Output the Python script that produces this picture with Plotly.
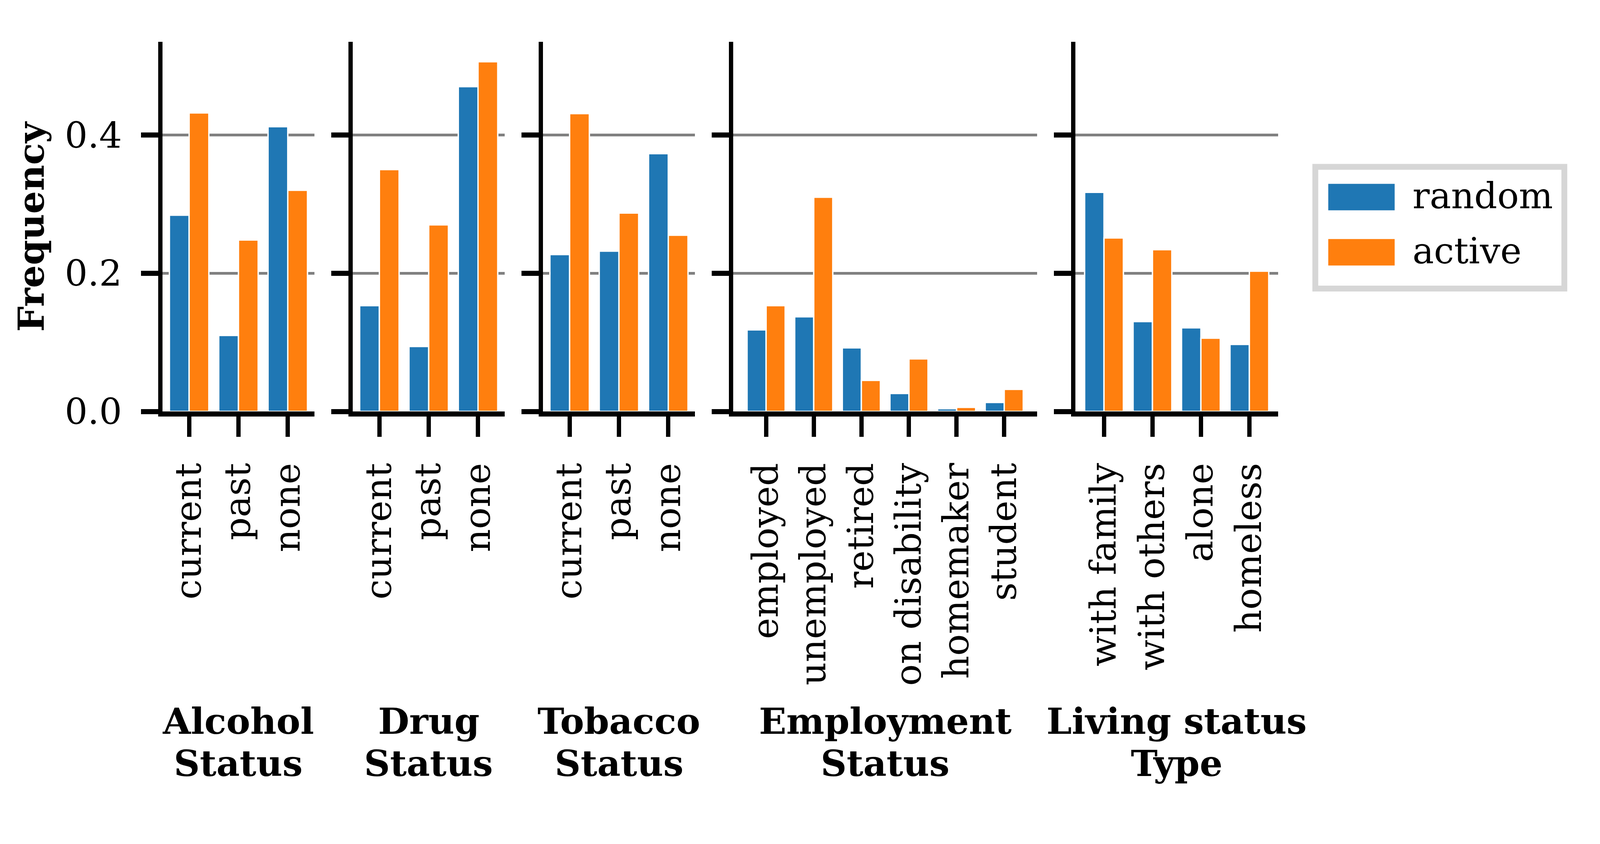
import plotly.graph_objects as go

# categories per panel
alcohol_cats = ["current", "past", "none"]
drug_cats = ["current", "past", "none"]
tobacco_cats = ["current", "past", "none"]
employment_cats = ["employed", "unemployed", "retired", "on disability", "homemaker", "student"]
living_cats = ["with family", "with others", "alone", "homeless"]

# frequencies
alcohol_random = [0.284, 0.110, 0.412]
alcohol_active = [0.432, 0.248, 0.320]
drug_random = [0.153, 0.094, 0.470]
drug_active = [0.350, 0.270, 0.506]
tobacco_random = [0.227, 0.232, 0.373]
tobacco_active = [0.431, 0.287, 0.255]
employment_random = [0.118, 0.137, 0.092, 0.026, 0.004, 0.013]
employment_active = [0.153, 0.310, 0.045, 0.076, 0.006, 0.032]
living_random = [0.317, 0.130, 0.121, 0.097]
living_active = [0.251, 0.234, 0.106, 0.203]

panel_titles = [["Alcohol", "Status"], ["Drug", "Status"], ["Tobacco", "Status"],
                ["Employment", "Status"], ["Living status", "Type"]]
series_names = ["random", "active"]
colors = ["#1f77b4", "#ff7f0e"]
y_ticks = [0.0, 0.2, 0.4]

panels = [
    (alcohol_cats, alcohol_random, alcohol_active),
    (drug_cats, drug_random, drug_active),
    (tobacco_cats, tobacco_random, tobacco_active),
    (employment_cats, employment_random, employment_active),
    (living_cats, living_random, living_active),
]

# positions are taken in pixels of the 4800x2160 reference and used as
# paper fractions; the page fills the window (which is narrower, ~4096 px)
W, H = 4800, 2160
SX = 4800 / 4096
FONT = "DejaVu Serif"
FS = 92

fig = go.Figure()

# panel geometry in pixels (width proportional to number of categories)
left = 480.0
unit = 152.5
gap = 115.5
y_bottom, y_top = 1080.0, 102.0

x0 = left
for i, (cats, rnd, act) in enumerate(panels):
    n = len(cats)
    width = n * unit
    ax = "" if i == 0 else str(i + 1)
    for name, vals, col in zip(series_names, [rnd, act], colors):
        fig.add_trace(go.Bar(
            x=cats, y=vals, name=name, showlegend=False,
            marker=dict(color=col, line=dict(color="white", width=3.5)),
            xaxis="x" + ax, yaxis="y" + ax,
        ))
    pad = 0.4 + 0.05 * (n - 0.2)
    fig.layout["xaxis" + ax] = dict(
        domain=[x0 / W, (x0 + width) / W], anchor="y" + ax,
        range=[-pad, n - 1 + pad], type="category",
        showline=True, linecolor="black", linewidth=13,
        ticks="outside", ticklen=52, tickwidth=13 / SX, tickcolor="black",
        tickangle=-90, ticklabelstandoff=30,
        tickfont=dict(family=FONT, size=FS, color="black"),
        showgrid=False, zeroline=False,
    )
    fig.layout["yaxis" + ax] = dict(
        domain=[1 - y_bottom / H, 1 - y_top / H], anchor="x" + ax,
        range=[0, 0.535], tickvals=y_ticks, tickformat=".1f",
        showticklabels=(i == 0),
        showline=True, linecolor="black", linewidth=13 / SX,
        ticks="outside", ticklen=52 / SX, tickwidth=13, tickcolor="black",
        ticklabelstandoff=30,
        tickfont=dict(family=FONT, size=FS, color="black"),
        showgrid=True, gridcolor="#808080", gridwidth=7, zeroline=False,
    )
    cx = (x0 + width / 2) / W
    for k, line in enumerate(panel_titles[i]):
        fig.add_annotation(
            x=cx, y=1 - (1900 + k * 111) / H, xref="paper", yref="paper",
            text="<b>" + line + "</b>", showarrow=False,
            xanchor="center", yanchor="middle",
            font=dict(family=FONT, size=FS, color="black"),
        )
    x0 += width + gap

# y axis title
fig.add_annotation(
    x=84 / W, y=1 - (y_bottom + y_top) / 2 / H, xref="paper", yref="paper",
    text="<b>Frequency</b>", textangle=-90, showarrow=False,
    xanchor="center", yanchor="middle",
    font=dict(family=FONT, size=FS, color="black"),
)

# legend drawn by hand so the patches keep matplotlib's proportions
fig.add_shape(type="rect", xref="paper", yref="paper",
              x0=3952 / W, x1=4702 / W, y0=1 - 755 / H, y1=1 - 433 / H,
              line=dict(color="#d6d6d6", width=15), fillcolor="white", layer="above")
for k, (name, col) in enumerate(zip(series_names, colors)):
    top = 478 + k * 146
    fig.add_shape(type="rect", xref="paper", yref="paper",
                  x0=3991 / W, x1=4191 / W, y0=1 - (top + 70) / H, y1=1 - top / H,
                  line=dict(width=0), fillcolor=col, layer="above")
    fig.add_annotation(
        x=4242 / W, y=1 - (top + 32) / H, xref="paper", yref="paper",
        text=name, showarrow=False, xanchor="left", yanchor="middle",
        font=dict(family=FONT, size=FS, color="black"),
    )

fig.update_layout(
    autosize=True,
    margin=dict(l=0, r=0, t=0, b=0),
    paper_bgcolor="white", plot_bgcolor="white",
    barmode="group", bargap=0.2, bargroupgap=0,
    font=dict(family=FONT, size=FS, color="black"),
)

fig.write_html("out.html")
